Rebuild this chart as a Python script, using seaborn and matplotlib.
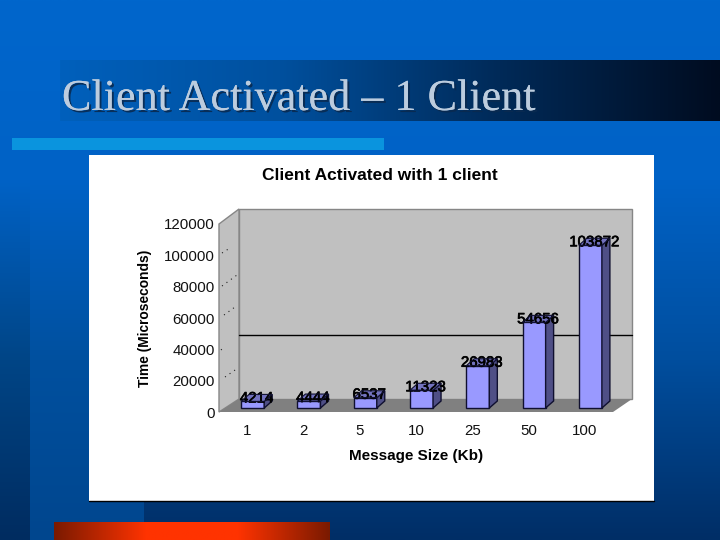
import numpy as np
import pandas as pd
import seaborn as sn
import matplotlib
matplotlib.use('Agg')
import matplotlib.pyplot as plt
from matplotlib.colors import LinearSegmentedColormap
from matplotlib.patches import Polygon, Rectangle
import matplotlib.patheffects as pe

sizes = ['1', '2', '5', '10', '25', '50', '100']
times = [4214, 4444, 6537, 11323, 26983, 54656, 103872]
y_ticks = [0, 20000, 40000, 60000, 80000, 100000, 120000]

slide_title = 'Client Activated \u2013 1 Client'
chart_title = 'Client Activated with 1 client'
x_name = 'Message Size (Kb)'
y_name = 'Time (Microseconds)'

sn.set_theme(style='white')
plt.rcParams['font.family'] = ['Liberation Sans', 'DejaVu Sans']

W, H = 720, 540
fig = plt.figure(figsize=(W / 100, H / 100), dpi=100)

# pixel canvas for the slide and the fake 3d box, y pointing down like the image
bg = fig.add_axes([0, 0, 1, 1], zorder=0)
bg.set_xlim(0, W)
bg.set_ylim(H, 0)
bg.axis('off')


def grad(ax, x0, x1, y0, y1, colors, vertical=False, zorder=1):
    cmap = LinearSegmentedColormap.from_list('g', colors)
    arr = np.linspace(0, 1, 256)
    arr = arr[:, None] if vertical else arr[None, :]
    ax.imshow(arr, cmap=cmap, extent=[x0, x1, y1, y0], aspect='auto', zorder=zorder, interpolation='bilinear')


grad(bg, 144, W, 0, H, ['#0066CC', '#0062C6', '#004E9E', '#002E66'], vertical=True)
grad(bg, 30, 144, 0, H, ['#0066CC', '#0062C6', '#00509F', '#00468E'], vertical=True, zorder=1.1)
grad(bg, 0, 30, 0, H, ['#0066CC', '#0062C6', '#004586', '#002C60'], vertical=True, zorder=1.2)
grad(bg, 60, W, 60, 121, ['#0060BC', '#00509E', '#002A58', '#000C20'], zorder=2)
bg.add_patch(Rectangle((12, 138), 372, 12, color='#0A94DE', lw=0, zorder=2))
grad(bg, 54, 330, 522, 540, ['#7A1A00', '#FF3300', '#FF3300', '#7A1A00'], zorder=2)
bg.set_xlim(0, W)
bg.set_ylim(H, 0)

bg.text(62, 99, slide_title, family='Liberation Serif', fontsize=31.8, color='#BCCCDE', va='center', zorder=3,
        path_effects=[pe.withSimplePatchShadow(offset=(1.5, -1.5), shadow_rgbFace='#0A2A50', alpha=0.9), pe.Normal()])

bg.add_patch(Rectangle((89, 155), 565, 346, facecolor='white', edgecolor='none', zorder=4))
bg.plot([89, 654], [501, 501], color='black', lw=1, zorder=4)

# box of the 3d chart
left, right, base, top = 219, 613, 412, 224
dx, dy = 20, 13
wall = '#C0C0C0'
edge = '#868686'
bg.add_patch(Polygon([(left + dx, top - dy - 2), (right + dx - 1, top - dy - 2), (right + dx - 1, base - dy), (left + dx, base - dy)],
                     facecolor=wall, edgecolor=edge, lw=1, zorder=5))
bg.add_patch(Polygon([(left, top), (left + dx, top - dy - 2), (left + dx, base - dy), (left, base)],
                     facecolor=wall, edgecolor=edge, lw=1, zorder=5))
bg.add_patch(Polygon([(left, base), (left + dx, base - dy), (right + dx - 1, base - dy), (right, base)],
                     facecolor='#808080', edgecolor='none', zorder=5))
# the one gridline that shows on the back wall
bg.plot([left + dx, right + dx - 1], [335, 335], color='black', lw=1, zorder=5.5)
# broken remains of the gridlines on the side wall
for (xa, ya, xb, yb) in [(222, 253, 230, 248), (222, 286, 237, 275), (224, 315, 235, 307), (221, 350, 224, 347), (225, 377, 238, 368)]:
    bg.plot([xa, xb], [ya, yb], color='#222222', lw=0.8, ls=(0, (1, 4)), zorder=5.5)

ax = fig.add_axes([left / W, 1 - base / H, (right - left) / W, (base - top) / H], zorder=1)
ax.patch.set_alpha(0)

df = pd.DataFrame({'size': sizes, 'time': times})
sn.barplot(data=df, x='size', y='time', ax=ax, color='#9999FF', saturation=1, width=0.41, edgecolor='black', linewidth=1)
ax.set_ylim(0, 120000)
ax.set_yticks(y_ticks)
ax.set_yticklabels([str(t) for t in y_ticks], fontsize=10.8, color='#111111')
ax.tick_params(axis='y', length=0, pad=3)
ax.tick_params(axis='x', length=0, pad=8.5, labelsize=10.8, labelcolor='#111111')
ax.set_xlabel(x_name, fontsize=11, fontweight='bold', labelpad=8, color='black')
ax.set_ylabel(y_name, fontsize=9.9, fontweight='bold', labelpad=8.3, color='black')
sn.despine(ax=ax, left=True, bottom=True)
fig.canvas.draw()

# the bars sit a little inside the box, so hide them here and redraw on the canvas
bar_dx, bar_dy = 5.5, 4
side_dx, side_dy = 8, 7
for rect, val in zip(ax.patches, times):
    (x0, y0), (x1, y1) = ax.transData.transform([rect.get_xy(), (rect.get_x() + rect.get_width(), rect.get_height())])
    x0, x1 = x0 + bar_dx, x1 + bar_dx
    yb, yt = H - y0 - bar_dy, H - y1 - bar_dy
    rect.set_visible(False)
    bg.add_patch(Rectangle((x0, yt), x1 - x0, yb - yt, facecolor='#9999FF', edgecolor='#101030', lw=1, zorder=6))
    bg.add_patch(Polygon([(x1, yt), (x1 + side_dx, yt - side_dy), (x1 + side_dx, yb - side_dy), (x1, yb)],
                         facecolor='#4F4F86', edgecolor='#101030', lw=1, zorder=6))
    bg.add_patch(Polygon([(x0, yt), (x0 + side_dx, yt - side_dy), (x1 + side_dx, yt - side_dy), (x1, yt)],
                         facecolor='#7272BE', edgecolor='none', zorder=6))
    bg.text((x0 + x1) / 2 + 4, yt - 3, str(val), fontsize=10.8, color='black', ha='center', va='center', zorder=7,
            path_effects=[pe.withStroke(linewidth=0.5, foreground='black')])
    bg.add_patch(Polygon([(x0, yt), (x0 + side_dx, yt - side_dy), (x1 + side_dx, yt - side_dy), (x1, yt)],
                         facecolor='none', edgecolor='#101030', lw=0.8, zorder=8))

ax.set_zorder(9)
fig.text(380 / W, 1 - 176 / H, chart_title, fontsize=12.5, fontweight='bold', ha='center', va='center', color='black', zorder=10)

plt.savefig('out.png', dpi=100)
plt.close()
